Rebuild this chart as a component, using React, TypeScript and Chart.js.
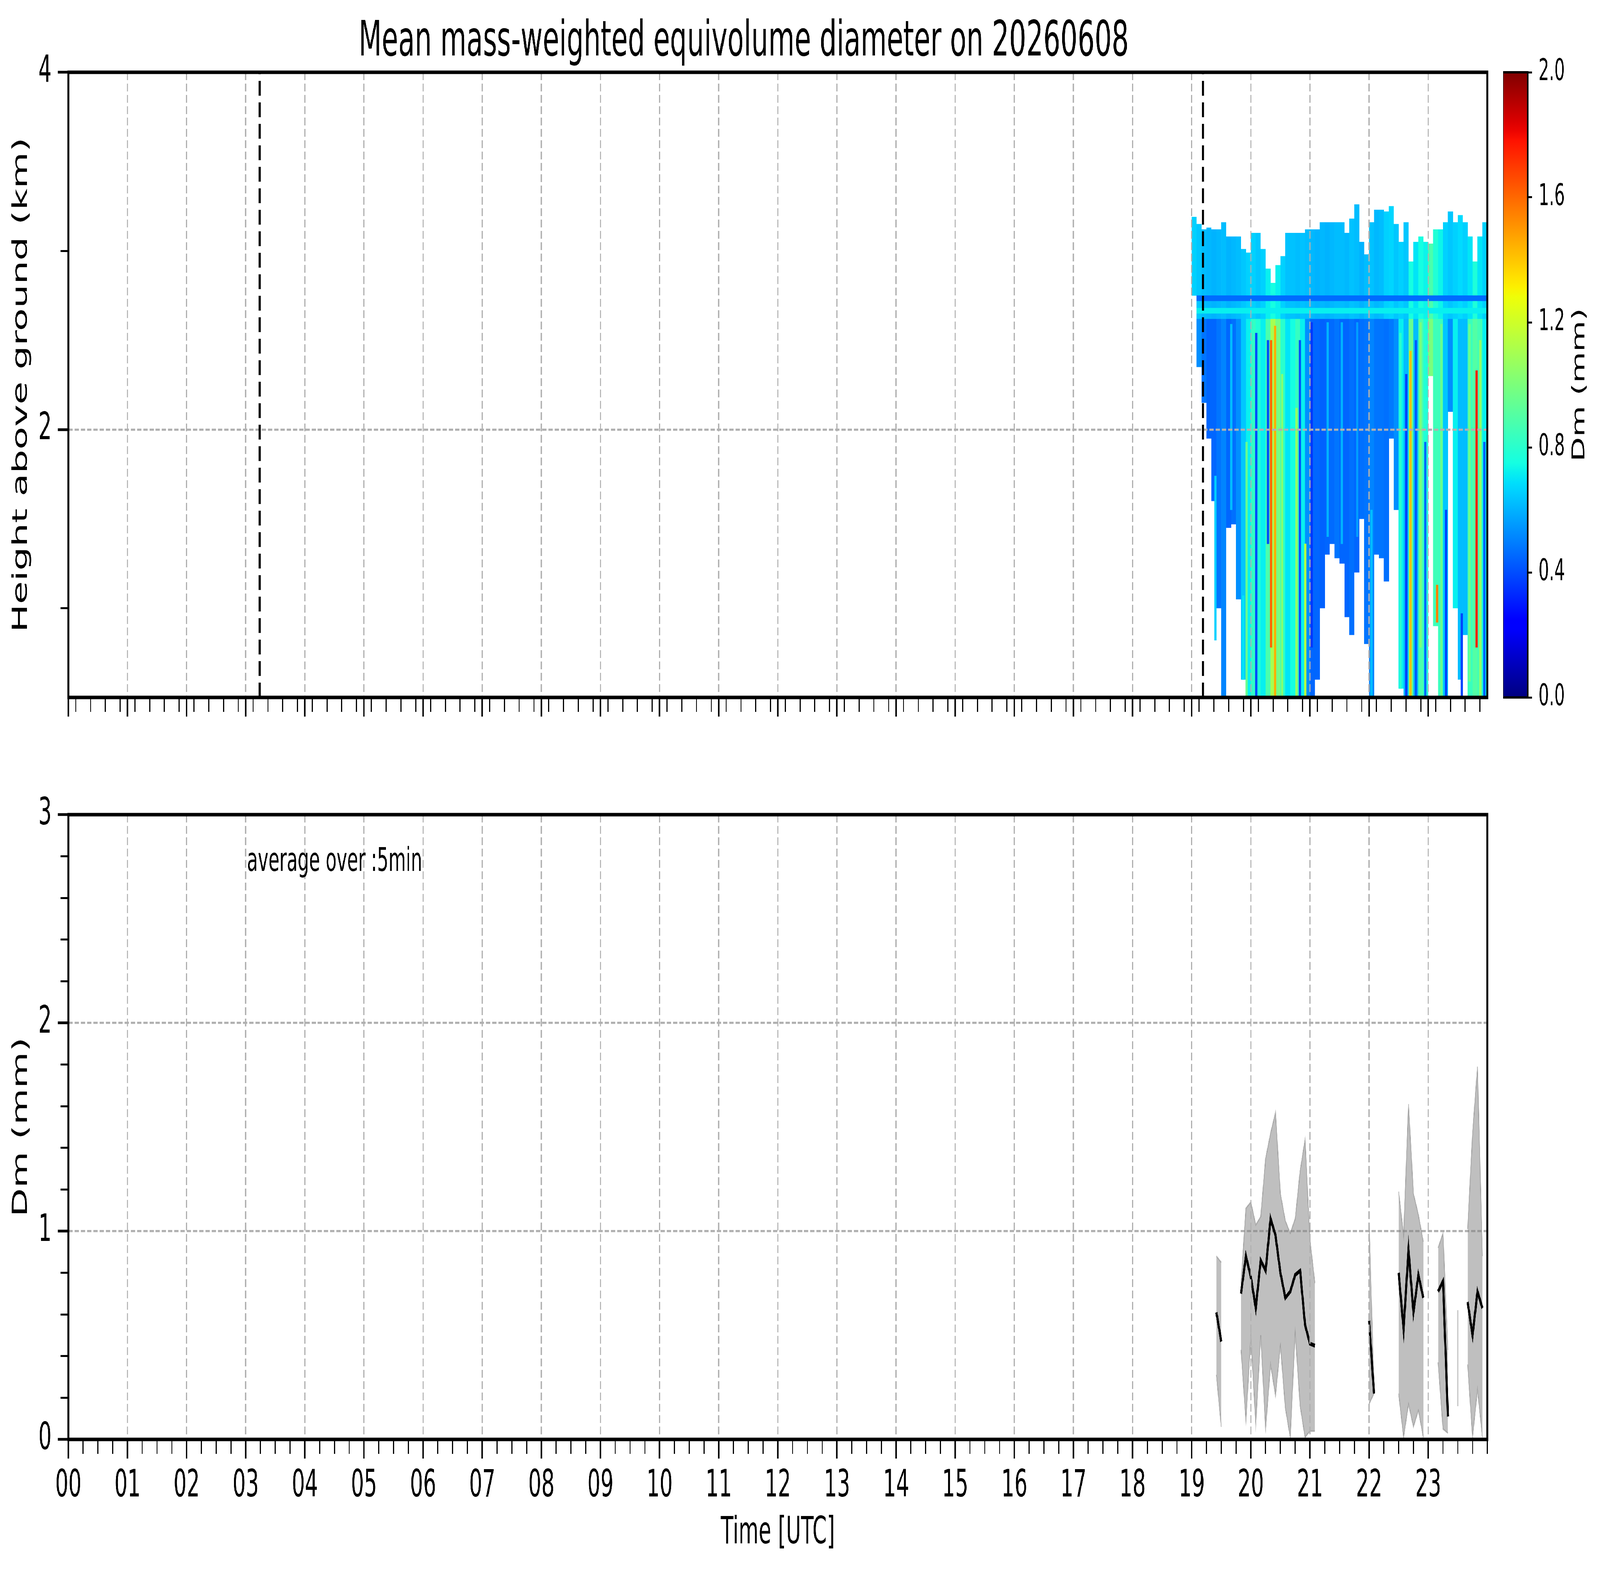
import React, { useEffect, useRef } from 'react';
import { Chart, registerables } from 'chart.js';

Chart.register(...registerables);

Chart.defaults.font.family = "'DejaVu Sans', sans-serif";
Chart.defaults.color = '#000';

const titleText = 'Mean mass-weighted equivolume diameter on 20260608';

const hourLabels = [
  '00', '01', '02', '03', '04', '05', '06', '07', '08', '09', '10', '11',
  '12', '13', '14', '15', '16', '17', '18', '19', '20', '21', '22', '23',
];

// black dashed markers in the profile panel (hours UTC)
const markerHours = [3.235, 19.19];

// profile columns: 5-minute bins starting 19:00 UTC
const profileStart = 19;
const profileStep = 5;
const echoTop = [
  3.19, 3.15, 3.12, 3.13, 3.12, 3.12, 3.16, 3.08, 3.08, 3.08,
  3.01, 2.99, 3.10, 3.10, 3.01, 2.90, 2.82, 2.92, 2.97, 3.10,
  3.10, 3.10, 3.10, 3.12, 3.12, 3.12, 3.16, 3.16, 3.16, 3.16,
  3.16, 3.10, 3.18, 3.26, 3.05, 2.98, 3.16, 3.23, 3.23, 3.22,
  3.25, 3.15, 3.05, 3.16, 2.94, 3.05, 3.08, 3.05, 3.04, 3.12,
  3.12, 3.16, 3.22, 3.16, 3.20, 3.16, 3.08, 2.94, 3.08, 3.16,
];
const echoBase = [
  2.75, 2.35, 2.15, 1.95, 1.60, 1.00, 0.50, 1.45, 1.47, 1.05,
  0.60, 0.50, 0.50, 0.50, 0.50, 0.50, 0.50, 0.50, 0.50, 0.50,
  0.50, 0.50, 0.50, 0.50, 0.50, 0.60, 1.00, 1.30, 1.36, 1.28,
  1.25, 0.95, 0.85, 1.20, 1.50, 0.80, 0.50, 1.30, 1.28, 1.15,
  1.95, 1.55, 0.55, 0.50, 0.50, 0.50, 0.50, 0.50, 2.30, 0.90,
  0.50, 0.50, 2.10, 1.00, 0.60, 0.85, 0.50, 0.50, 0.50, 0.50,
];
// Dm above / below the bright band (mm)
const dmAloft = [
  0.66, 0.64, 0.62, 0.61, 0.60, 0.61, 0.62, 0.60, 0.61, 0.62,
  0.64, 0.66, 0.66, 0.64, 0.66, 0.72, 0.75, 0.72, 0.66, 0.63,
  0.63, 0.62, 0.63, 0.62, 0.61, 0.60, 0.61, 0.60, 0.61, 0.62,
  0.62, 0.61, 0.63, 0.62, 0.60, 0.62, 0.63, 0.61, 0.62, 0.66,
  0.67, 0.64, 0.66, 0.64, 0.75, 0.70, 0.75, 0.73, 0.88, 0.78,
  0.73, 0.66, 0.64, 0.66, 0.68, 0.66, 0.70, 0.77, 0.70, 0.66,
];
const dmBelow = [
  0.58, 0.53, 0.48, 0.45, 0.45, 0.48, 0.51, 0.45, 0.47, 0.53,
  0.64, 0.72, 0.82, 0.78, 0.72, 0.88, 1.10, 0.98, 0.80, 0.70,
  0.75, 0.83, 0.72, 0.53, 0.45, 0.45, 0.44, 0.45, 0.46, 0.48,
  0.45, 0.45, 0.47, 0.45, 0.47, 0.48, 0.51, 0.48, 0.48, 0.47,
  0.49, 0.53, 0.72, 0.62, 0.95, 0.62, 0.88, 0.78, 1.00, 0.85,
  0.84, 0.64, 0.53, 0.72, 0.62, 0.62, 0.84, 0.90, 0.86, 0.72,
];
const splitHeight = 2.62;

// thin horizontal bands near 2.7 km
const bandBase = [2.72, 2.65];
const bandTop = [2.75, 2.68];
const bandDm = [0.46, 0.72];

// narrow vertical stripes inside the echo (hour, base km, top km, Dm mm)
const stripeHour = [
  19.40, 19.67, 19.87, 19.93, 20.09, 20.29, 20.34, 20.41, 20.53, 20.77,
  20.83, 20.92, 21.03, 21.30, 21.54, 21.80, 22.04, 22.53, 22.63, 22.70,
  22.79, 22.87, 22.95, 23.15, 23.22, 23.30, 23.57, 23.70, 23.82, 23.88, 23.95,
];
const stripeBase = [
  0.82, 1.55, 0.60, 0.50, 0.50, 1.36, 0.78, 0.50, 0.50, 0.50,
  0.50, 0.50, 0.78, 1.40, 1.36, 1.40, 0.50, 0.55, 0.50, 0.50,
  0.50, 0.78, 0.50, 0.92, 0.50, 0.50, 0.50, 0.59, 0.78, 0.50, 0.50,
];
const stripeTop = [
  1.74, 2.59, 1.07, 1.93, 2.54, 2.50, 2.50, 2.58, 2.31, 2.12,
  2.50, 1.36, 2.60, 2.60, 2.60, 2.60, 1.55, 2.54, 2.31, 2.44,
  2.50, 2.60, 1.93, 1.13, 2.59, 1.55, 0.97, 2.59, 2.33, 2.50, 1.93,
];
const stripeDm = [
  0.66, 0.62, 0.70, 0.95, 0.40, 0.40, 1.60, 1.45, 1.02, 1.05,
  0.40, 1.15, 0.36, 0.60, 0.60, 0.56, 0.62, 0.80, 0.38, 1.40,
  0.42, 1.00, 0.45, 1.55, 0.95, 0.38, 0.38, 0.95, 1.75, 1.05, 0.45,
];

// 5-minute averages for the lower panel
const dmTimes = [
  '19:25', '19:30', '19:35',
  '19:50', '19:55', '20:00', '20:05', '20:10', '20:15', '20:20', '20:25', '20:30',
  '20:35', '20:40', '20:45', '20:50', '20:55', '21:00', '21:05', '21:10',
  '22:00', '22:05', '22:10',
  '22:30', '22:35', '22:40', '22:45', '22:50', '22:55', '23:00',
  '23:10', '23:15', '23:20', '23:25', '23:30', '23:35', '23:40', '23:45', '23:50', '23:55',
];
const dmMean = [
  0.61, 0.47, null,
  0.70, 0.88, 0.78, 0.63, 0.86, 0.81, 1.06, 0.98, 0.80,
  0.68, 0.71, 0.79, 0.81, 0.55, 0.46, 0.45, null,
  0.57, 0.22, null,
  0.80, 0.53, 0.91, 0.61, 0.79, 0.68, null,
  0.71, 0.76, 0.11, null, 0.39, null, 0.66, 0.50, 0.71, 0.63,
];
const dmHigh = [
  0.88, 0.85, null,
  0.75, 1.11, 1.14, 1.03, 1.07, 1.35, 1.47, 1.57, 1.18,
  1.05, 0.99, 1.06, 1.29, 1.44, 0.96, 0.75, null,
  1.04, 0.25, null,
  1.19, 0.98, 1.61, 1.18, 1.08, 0.95, null,
  0.92, 0.99, 0.43, null, 0.62, null, 1.01, 1.47, 1.79, 0.88,
];
const dmLow = [
  0.31, 0.06, null,
  0.43, 0.09, 0.49, 0.07, 0.50, 0.05, 0.36, 0.21, 0.45,
  0.15, 0.01, 0.51, 0.16, 0.01, 0.04, 0.04, null,
  0.17, 0.22, null,
  0.22, 0.01, 0.17, 0.06, 0.14, 0.01, null,
  0.37, 0.05, 0.03, null, 0.16, null, 0.36, 0.01, 0.24, 0.01,
];

const noteText = 'average over :5min';
const noteAt = [3.02, 2.73];

const cbRange = [0, 2];
const cbTicks = [0, 0.4, 0.8, 1.2, 1.6, 2.0];

// ---------- helpers ----------
const jetSegments = {
  r: [[0, 0], [0.35, 0], [0.66, 1], [0.89, 1], [1, 0.5]],
  g: [[0, 0], [0.125, 0], [0.375, 1], [0.64, 1], [0.91, 0], [1, 0]],
  b: [[0, 0.5], [0.11, 1], [0.34, 1], [0.65, 0], [1, 0]],
};
function channel(pts: number[][], t: number) {
  for (let i = 1; i < pts.length; i++) {
    if (t <= pts[i][0]) {
      const [x0, y0] = pts[i - 1];
      const [x1, y1] = pts[i];
      return y0 + ((y1 - y0) * (t - x0)) / (x1 - x0);
    }
  }
  return pts[pts.length - 1][1];
}
function jetFrac(t: number) {
  const c = (p: number[][]) => Math.round(255 * channel(p, t));
  return `rgb(${c(jetSegments.r)},${c(jetSegments.g)},${c(jetSegments.b)})`;
}
function jet(dm: number) {
  const t = Math.min(1, Math.max(0, (dm - cbRange[0]) / (cbRange[1] - cbRange[0])));
  return jetFrac(t);
}
const toHours = (s: string) => {
  const [h, m] = s.split(':').map(Number);
  return h + m / 60;
};
const binHour = (i: number) => profileStart + ((i + 0.5) * profileStep) / 60;

const GRID = '#b0b0b0';
const FONT = 96;

const hourTicks = (s: any) => { s.ticks = hourLabels.map((_, i) => ({ value: i })); };
const quarterTicks = (s: any) => { s.ticks = Array.from({ length: 97 }, (_, i) => ({ value: i / 4 })); };

const framePlugin = (w: number) => ({
  id: 'frame',
  afterDraw(chart: any) {
    const { ctx, chartArea: a } = chart;
    ctx.save();
    ctx.strokeStyle = '#000';
    ctx.lineWidth = w;
    ctx.strokeRect(a.left, a.top, a.right - a.left, a.bottom - a.top);
    ctx.restore();
  },
});

const markerPlugin = {
  id: 'markers',
  afterDraw(chart: any) {
    const { ctx, chartArea: a, scales } = chart;
    ctx.save();
    ctx.strokeStyle = '#000';
    ctx.lineWidth = 10;
    ctx.setLineDash([38, 17]);
    markerHours.forEach((h) => {
      const x = scales.x.getPixelForValue(h);
      ctx.beginPath();
      ctx.moveTo(x, a.bottom);
      ctx.lineTo(x, a.top);
      ctx.stroke();
    });
    ctx.restore();
  },
};

const notePlugin = {
  id: 'note',
  afterDraw(chart: any) {
    const { ctx, scales } = chart;
    ctx.save();
    ctx.font = "83px 'DejaVu Sans'";
    ctx.fillStyle = '#000';
    ctx.textBaseline = 'alphabetic';
    ctx.fillText(noteText, scales.x.getPixelForValue(noteAt[0]), scales.y.getPixelForValue(noteAt[1]));
    ctx.restore();
  },
};

const cbLabelPlugin = {
  id: 'cbLabel',
  afterDraw(chart: any) {
    const { ctx, chartArea: a } = chart;
    ctx.save();
    ctx.font = "82px 'DejaVu Sans'";
    ctx.fillStyle = '#000';
    ctx.textAlign = 'center';
    ctx.textBaseline = 'middle';
    ctx.translate(a.right + 242, (a.top + a.bottom) / 2);
    ctx.rotate(-Math.PI / 2);
    ctx.fillText('Dm (mm)', 0, 0);
    ctx.restore();
  },
};

function timeAxes(showLabels: boolean, height: number) {
  return {
    x: {
      type: 'linear', min: 0, max: 24, offset: false, position: 'bottom', weight: 1,
      afterBuildTicks: hourTicks,
      afterFit: (s: any) => { s.height = height; },
      ticks: {
        display: showLabels, autoSkip: false, maxRotation: 0, padding: 14,
        font: { size: FONT },
        callback: (v: number) => hourLabels[Math.round(v)],
      },
      grid: { color: GRID, lineWidth: 5.5, tickLength: 49, tickWidth: 7, tickColor: '#000', offset: false, z: 1 },
      border: { display: false, dash: [20, 9] },
      title: {
        display: showLabels, text: 'Time [UTC]', font: { size: FONT },
        padding: { top: 0, bottom: 48 },
      },
    },
    xm: {
      type: 'linear', min: 0, max: 24, offset: false, position: 'bottom', weight: 0,
      afterBuildTicks: quarterTicks,
      afterFit: (s: any) => { s.height = 0; },
      ticks: { display: false, autoSkip: false },
      grid: { drawOnChartArea: false, tickLength: 37, tickWidth: 5, tickColor: '#000', z: 1 },
      border: { display: false },
    },
  };
}

function valueAxes(min: number, max: number, major: number[], minor: number[], label: string, gridZ: number) {
  return {
    y: {
      type: 'linear', min, max, position: 'left', weight: 1,
      afterBuildTicks: (s: any) => { s.ticks = major.map((value) => ({ value })); },
      afterFit: (s: any) => { s.width = 318; },
      ticks: { font: { size: FONT }, padding: 29 },
      grid: { color: GRID, lineWidth: 5.5, tickLength: 49, tickWidth: 7, tickColor: '#000', z: gridZ },
      border: { display: false, dash: [20, 9] },
      title: { display: true, text: label, font: { size: FONT }, padding: { top: 42, bottom: 0 } },
    },
    ym: {
      type: 'linear', min, max, position: 'left', weight: 0,
      afterBuildTicks: (s: any) => { s.ticks = minor.map((value) => ({ value })); },
      afterFit: (s: any) => { s.width = 0; },
      ticks: { display: false },
      grid: { drawOnChartArea: false, tickLength: 37, tickWidth: 5, tickColor: '#000', z: 1 },
      border: { display: false },
    },
  };
}

const baseOptions = { animation: false, responsive: false, devicePixelRatio: 1, events: [] };

// ---------- configs ----------
function buildProfile(): any {
  const aloft: any[] = [];
  const below: any[] = [];
  const bands: any[][] = bandBase.map(() => []);
  echoTop.forEach((top, i) => {
    const base = echoBase[i];
    const x = binHour(i);
    const lo = Math.max(base, splitHeight);
    aloft.push({ x, y: top > lo ? [lo, top] : null });
    below.push({ x, y: base < splitHeight ? [base, Math.min(top, splitHeight)] : null });
    bandBase.forEach((b, j) => {
      const a = Math.max(b, base);
      const t = Math.min(bandTop[j], top);
      bands[j].push({ x, y: t > a ? [a, t] : null });
    });
  });
  const common = {
    grouped: false, barPercentage: 1, categoryPercentage: 1, borderWidth: 0,
    xAxisID: 'x', yAxisID: 'y',
  };
  return {
    type: 'bar',
    data: {
      datasets: [
        {
          ...common, xAxisID: 'xs', order: 0, barThickness: 10,
          data: stripeHour.map((x, i) => ({ x, y: [stripeBase[i], stripeTop[i]] })),
          backgroundColor: stripeDm.map(jet),
        },
        ...bands.map((data, j) => ({ ...common, order: 1, data, backgroundColor: jet(bandDm[j]) })),
        { ...common, order: 2, data: aloft, backgroundColor: dmAloft.map(jet) },
        { ...common, order: 2, data: below, backgroundColor: dmBelow.map(jet) },
      ],
    },
    options: {
      ...baseOptions,
      layout: { padding: { left: 0, right: 318, top: 0, bottom: 0 } },
      plugins: {
        legend: { display: false }, tooltip: { enabled: false },
        title: {
          display: true, text: titleText, color: '#000',
          font: { size: 125, weight: 'normal' }, padding: { top: 35, bottom: 0 },
        },
      },
      scales: {
        ...timeAxes(false, 115),
        xs: { type: 'linear', min: 0, max: 24, display: false, offset: false },
        ...valueAxes(0.5, 4, [2, 4], [1, 3], 'Height above ground (km)', 1),
      },
    },
    plugins: [markerPlugin, framePlugin(9)],
  };
}

function buildMean(): any {
  const pts = (vals: (number | null)[]) => dmTimes.map((t, i) => ({ x: toHours(t), y: vals[i] }));
  // samples with no neighbours show only as a thin spread sliver
  const lone = dmTimes
    .map((t, i) => ({ t, i }))
    .filter(({ i }) => dmMean[i] != null && dmMean[i - 1] == null && dmMean[i + 1] == null)
    .map(({ t, i }) => ({ x: toHours(t), y: [dmLow[i], dmHigh[i]] }));
  const shade = 'rgba(128,128,128,0.5)';
  const common = { pointRadius: 0, spanGaps: false, tension: 0, xAxisID: 'x', yAxisID: 'y' };
  return {
    type: 'line',
    data: {
      datasets: [
        { ...common, order: 0, data: pts(dmMean), borderColor: '#000', borderWidth: 10, fill: false },
        { ...common, order: 1, data: pts(dmHigh), borderColor: shade, borderWidth: 4, backgroundColor: shade, fill: '+1' },
        { ...common, order: 2, data: pts(dmLow), borderColor: shade, borderWidth: 4, fill: false },
        {
          type: 'bar', order: 3, data: lone, xAxisID: 'x', yAxisID: 'y',
          backgroundColor: shade, borderWidth: 0, barThickness: 5, grouped: false,
        },
      ],
    },
    options: {
      ...baseOptions,
      layout: { padding: { left: 0, right: 318, top: 185, bottom: 0 } },
      plugins: { legend: { display: false }, tooltip: { enabled: false } },
      scales: {
        ...timeAxes(true, 347),
        ...valueAxes(0, 3, [0, 1, 2, 3],
          [0.2, 0.4, 0.6, 0.8, 1.2, 1.4, 1.6, 1.8, 2.2, 2.4, 2.6, 2.8], 'Dm (mm)', 0),
      },
    },
    plugins: [notePlugin, framePlugin(9)],
  };
}

function buildColorbar(): any {
  return {
    type: 'bar',
    data: {
      labels: ['Dm'],
      datasets: [{
        data: [cbRange],
        barPercentage: 1, categoryPercentage: 1, borderWidth: 0,
        backgroundColor: (c: any) => {
          const { chart } = c;
          const a = chart.chartArea;
          if (!a) return 'transparent';
          const g = chart.ctx.createLinearGradient(0, a.bottom, 0, a.top);
          for (let i = 0; i <= 64; i++) g.addColorStop(i / 64, jetFrac(i / 64));
          return g;
        },
      }],
    },
    options: {
      ...baseOptions,
      layout: { padding: { left: 0, right: 0, top: 185, bottom: 115 } },
      plugins: { legend: { display: false }, tooltip: { enabled: false } },
      scales: {
        x: { type: 'category', display: false },
        y: {
          type: 'linear', position: 'right', min: cbRange[0], max: cbRange[1],
          afterBuildTicks: (s: any) => { s.ticks = cbTicks.map((value) => ({ value })); },
          afterFit: (s: any) => { s.width = 336; },
          ticks: { font: { size: 77 }, padding: 30, callback: (v: number) => v.toFixed(1) },
          grid: { drawOnChartArea: false, tickLength: 20, tickWidth: 5, tickColor: '#000' },
          border: { display: false },
        },
      },
    },
    plugins: [framePlugin(6), cbLabelPlugin],
  };
}

function ChartCanvas({ build, left, top, width, height }: {
  build: () => any; left: number; top: number; width: number; height: number;
}) {
  const canvasRef = useRef<HTMLCanvasElement | null>(null);
  useEffect(() => {
    if (!canvasRef.current) return;
    const chart = new Chart(canvasRef.current, build());
    return () => { chart.destroy(); };
  }, [build]);
  return (
    <canvas
      ref={canvasRef}
      width={width}
      height={height}
      style={{ position: 'absolute', left, top, width, height }}
    />
  );
}

const PAGE_W = 7442;
const PAGE_H = 4031;

export default function App() {
  // the figure is laid out on a 7442 x 4031 sheet and fitted to the actual window
  document.documentElement.style.overflow = 'hidden';
  const sx = (window.innerWidth || PAGE_W) / PAGE_W;
  const sy = (window.innerHeight || PAGE_H) / PAGE_H;
  return (
    <div style={{
      position: 'absolute', left: 0, top: 0, width: PAGE_W, height: PAGE_H,
      background: '#fff', transform: `scale(${sx}, ${sy})`, transformOrigin: '0 0',
    }}>
      <ChartCanvas build={buildProfile} left={0} top={0} width={7236} height={1900} />
      <ChartCanvas build={buildMean} left={0} top={1900} width={7236} height={2131} />
      <ChartCanvas build={buildColorbar} left={6991} top={0} width={451} height={1900} />
    </div>
  );
}
